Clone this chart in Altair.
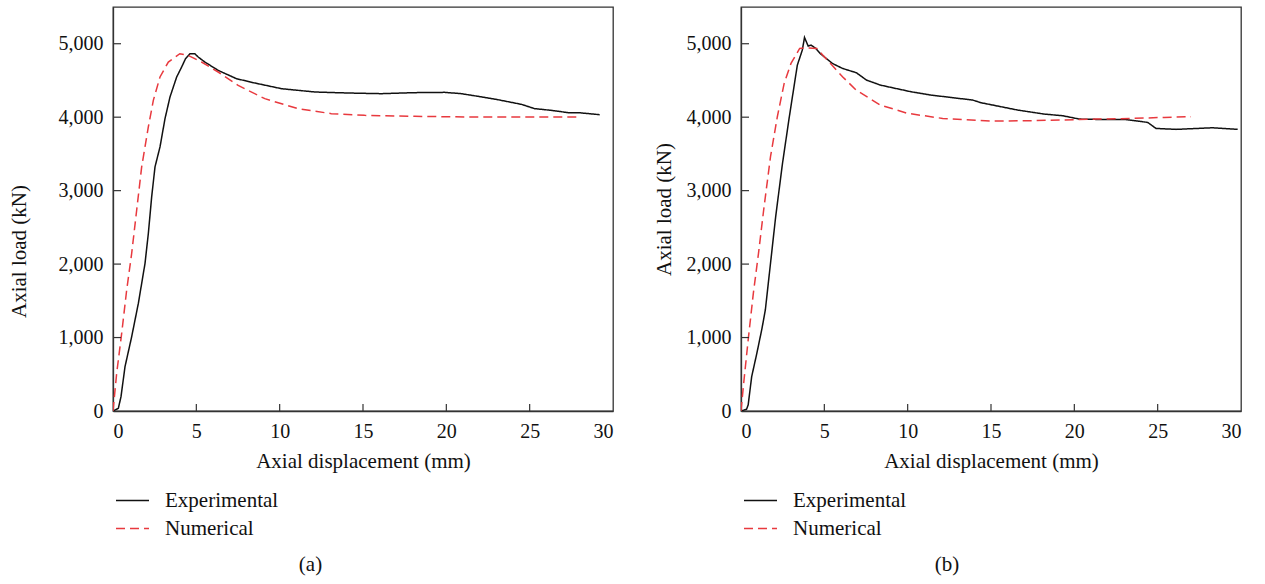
import altair as alt
import pandas as pd

series_names = ["Experimental", "Numerical"]
x_ticks = [0, 5, 10, 15, 20, 25, 30]
y_ticks = [0, 1000, 2000, 3000, 4000, 5000]
inner_x_ticks = [5, 10, 15, 20, 25]
inner_y_ticks = [1000, 2000, 3000, 4000, 5000]

# Panel (a)
exp_a_x = [0, 0.32, 0.48, 0.72, 1.12, 1.52, 1.92, 2.12, 2.32, 2.52, 2.82, 3.12, 3.42, 3.82, 4.12, 4.35,
           4.62, 4.91, 5.11, 5.51, 6.31, 7.41, 8.51, 10.11, 12.1, 14.1, 16.1, 18.1, 19.9, 20.9, 21.9,
           23.1, 24.5, 25.3, 26.3, 27.3, 27.9, 29.2]
exp_a_y = [0, 36, 195, 603, 1011, 1464, 2008, 2416, 2915, 3323, 3595, 3980, 4275, 4547, 4683, 4796,
           4864, 4864, 4819, 4751, 4637, 4524, 4465, 4388, 4343, 4329, 4320, 4334, 4338, 4320, 4284,
           4238, 4175, 4116, 4093, 4062, 4062, 4034]
num_a_x = [0, 0.22, 0.52, 0.82, 1.12, 1.42, 1.72, 2.12, 2.42, 2.82, 3.32, 4.01, 4.51, 5.31, 6.31,
           7.51, 9.11, 11.1, 13.1, 15.1, 18.1, 21.1, 25.1, 28.1]
num_a_y = [0, 512, 1056, 1646, 2144, 2733, 3323, 3867, 4229, 4547, 4751, 4864, 4841, 4751, 4615,
           4433, 4252, 4116, 4048, 4025, 4012, 4003, 4003, 4003]

# Panel (b)
exp_b_x = [0, 0.33, 0.43, 0.64, 0.95, 1.26, 1.46, 1.77, 2.08, 2.49, 2.90, 3.38, 3.68, 3.81, 4.03,
           4.20, 4.49, 4.75, 5.48, 6.09, 6.92, 7.53, 8.36, 10.2, 11.4, 13.9, 14.4, 16.6, 18.2, 19.3,
           20.3, 21.3, 23.0, 24.4, 24.9, 26.1, 28.3, 29.8]
exp_b_y = [0, 23, 82, 467, 785, 1125, 1375, 2010, 2645, 3371, 4006, 4709, 4914, 5086, 4968,
           4982, 4936, 4868, 4732, 4664, 4605, 4505, 4437, 4346, 4301, 4233, 4197, 4097, 4042, 4020,
           3974, 3970, 3970, 3929, 3847, 3834, 3856, 3834]
num_b_x = [0, 0.16, 0.43, 0.74, 1.05, 1.36, 1.77, 2.18, 2.59, 3.00, 3.52, 3.93, 4.55, 5.27, 6.09,
           6.91, 8.36, 10.0, 12.1, 15.1, 17.2, 19.3, 21.3, 23.4, 25.4, 27.0]
num_b_y = [0, 377, 966, 1602, 2146, 2736, 3462, 4006, 4460, 4732, 4936, 4945, 4936, 4755, 4551,
           4369, 4165, 4052, 3983, 3947, 3952, 3961, 3974, 3983, 3997, 4006]

FONT = "Liberation Serif"
FRAME = "#333333"
RED = "#e8393e"
W, H = 500, 404


def panel(ex, ey, nx, ny, label, title_pad, title_y=None):
    rows = []
    for i, (x, y) in enumerate(zip(ex, ey)):
        rows.append({"series": "Experimental", "x": x, "y": y, "i": i})
    for i, (x, y) in enumerate(zip(nx, ny)):
        rows.append({"series": "Numerical", "x": x, "y": y, "i": i})
    df = pd.DataFrame(rows)

    xs = alt.Scale(domain=[0, 30], nice=False, zero=False)
    ys = alt.Scale(domain=[0, 5500], nice=False)
    xaxis = alt.Axis(values=x_ticks, ticks=False, grid=False, title="Axial displacement (mm)",
                     labelPadding=10, titlePadding=9)
    yextra = {"titleY": title_y} if title_y is not None else {}
    yaxis = alt.Axis(values=y_ticks, ticks=False, grid=False, format=",.0f", title="Axial load (kN)",
                     labelPadding=10, titlePadding=title_pad, **yextra)
    leg = alt.Legend(title=None, orient="none", legendX=2, legendY=476, symbolType="stroke",
                     symbolSize=1089, symbolStrokeWidth=1.5, labelFont=FONT, labelFontSize=21,
                     labelColor="#111111", labelOffset=15, padding=0, rowPadding=0)
    lines = alt.Chart(df).mark_line(strokeWidth=1.5, clip=True).encode(
        x=alt.X("x:Q", scale=xs, axis=xaxis),
        y=alt.Y("y:Q", scale=ys, axis=yaxis),
        color=alt.Color("series:N", scale=alt.Scale(domain=series_names, range=["#111111", RED]), legend=leg),
        strokeDash=alt.StrokeDash("series:N", scale=alt.Scale(domain=series_names, range=[[1, 0], [9, 5]]), legend=leg),
        order="i:Q",
    )
    xt = alt.Chart(pd.DataFrame({"x": inner_x_ticks})).mark_rule(color=FRAME, strokeWidth=1.2).encode(
        x=alt.X("x:Q", scale=xs, axis=xaxis), y=alt.value(H), y2=alt.value(H - 7))
    yt = alt.Chart(pd.DataFrame({"y": inner_y_ticks})).mark_rule(color=FRAME, strokeWidth=1.2).encode(
        y=alt.Y("y:Q", scale=ys, axis=yaxis), x=alt.value(0), x2=alt.value(8))
    return alt.layer(lines, xt, yt).properties(
        width=W, height=H,
        title=alt.TitleParams(text=label, orient="bottom", font=FONT, fontSize=21, fontWeight="normal",
                              color="#111111", anchor="middle", frame="bounds", offset=15))


pa = panel(exp_a_x, exp_a_y, num_a_x, num_a_y, "(a)", 29, 244)
pb = panel(exp_b_x, exp_b_y, num_b_x, num_b_y, "(b)", 12)

chart = alt.hconcat(pa, pb, spacing=38).resolve_scale(
    color="independent", strokeDash="independent"
).properties(
    padding={"left": 7, "top": 6, "right": 0, "bottom": 0},
    background="white",
).configure_view(
    stroke=FRAME, strokeWidth=1.3
).configure_axis(
    labelFont=FONT, labelFontSize=20, labelColor="#111111",
    titleFont=FONT, titleFontSize=21, titleFontWeight="normal", titleColor="#111111",
    domainColor=FRAME, domainWidth=1.3,
)

chart.save("out.html", embed_options={"renderer": "svg", "actions": False})
